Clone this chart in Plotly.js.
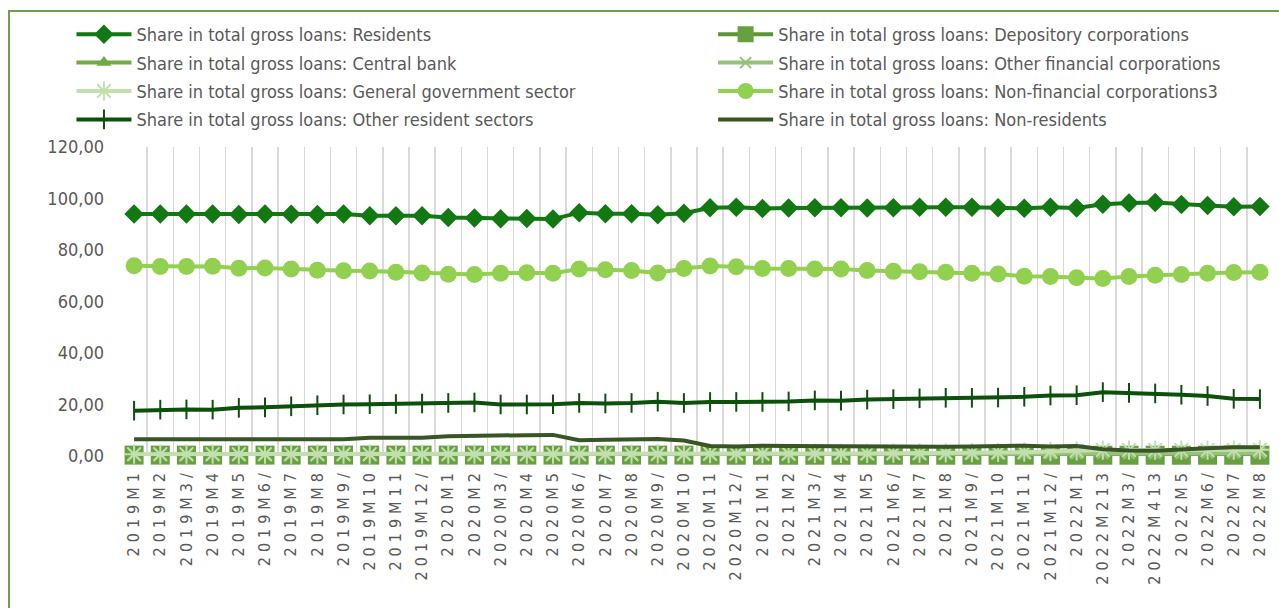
<!DOCTYPE html>
<html>
<head>
<meta charset="utf-8">
<script src="https://cdn.plot.ly/plotly-3.0.1.min.js"></script>
<style>
  html, body { margin: 0; padding: 0; background: #ffffff; }
  #chart { position: absolute; left: 0; top: 0; width: 1279px; height: 608px; }
  #frame { position: absolute; left: 8px; top: 10px; width: 1400px; height: 800px;
           border-left: 2px solid #6E9F4B; border-top: 2px solid #6E9F4B; pointer-events: none; }
  .xtick text { letter-spacing: 5px; }
</style>
</head>
<body>
<div id="chart"></div>
<div id="frame"></div>
<script>
const categories = [
  "2019M1","2019M2","2019M3/","2019M4","2019M5","2019M6/","2019M7","2019M8","2019M9/","2019M10","2019M11","2019M12/",
  "2020M1","2020M2","2020M3/","2020M4","2020M5","2020M6/","2020M7","2020M8","2020M9/","2020M10","2020M11","2020M12/",
  "2021M1","2021M2","2021M3/","2021M4","2021M5","2021M6/","2021M7","2021M8","2021M9/","2021M10","2021M11","2021M12/",
  "2022M1","2022M213","2022M3/","2022M413","2022M5","2022M6/","2022M7","2022M8"
];

const residents = [
  94.0, 94.0, 94.0, 94.0, 93.8, 94.0, 93.9, 93.8, 94.0, 93.3, 93.3, 93.3,
  92.6, 92.4, 92.1, 92.2, 92.0, 94.5, 94.1, 94.1, 93.7, 94.3, 96.4, 96.6,
  96.1, 96.3, 96.4, 96.4, 96.3, 96.4, 96.6, 96.6, 96.6, 96.4, 96.2, 96.6,
  96.3, 97.8, 98.3, 98.4, 97.7, 97.3, 96.8, 96.9
];
const depository = [
  0.35, 0.35, 0.35, 0.35, 0.35, 0.35, 0.35, 0.35, 0.35, 0.35, 0.35, 0.35,
  0.35, 0.35, 0.35, 0.35, 0.35, 0.35, 0.35, 0.35, 0.35, 0.35, 0.30, 0.30,
  0.30, 0.30, 0.30, 0.30, 0.30, 0.30, 0.30, 0.30, 0.30, 0.30, 0.30, 0.30,
  0.30, 0.30, 0.30, 0.30, 0.30, 0.30, 0.30, 0.30
];
const centralBank = [
  0.0, 0.0, 0.0, 0.0, 0.0, 0.0, 0.0, 0.0, 0.0, 0.0, 0.0, 0.0,
  0.0, 0.0, 0.0, 0.0, 0.0, 0.0, 0.0, 0.0, 0.0, 0.0, 0.0, 0.0,
  0.0, 0.0, 0.0, 0.0, 0.0, 0.0, 0.0, 0.0, 0.0, 0.0, 0.0, 0.0,
  0.0, 0.0, 0.0, 0.0, 0.0, 0.0, 0.0, 0.0
];
const otherFinancial = [
  0.6, 0.6, 0.6, 0.6, 0.6, 0.6, 0.6, 0.6, 0.6, 0.6, 0.6, 0.6,
  0.6, 0.6, 0.6, 0.6, 0.6, 0.6, 0.6, 0.6, 0.6, 0.6, 0.7, 0.7,
  0.7, 0.7, 0.7, 0.7, 0.7, 0.8, 0.8, 0.8, 0.9, 0.9, 0.9, 1.0,
  1.0, 1.1, 1.1, 1.1, 1.1, 1.2, 1.2, 1.2
];
const generalGov = [
  0.7, 0.7, 0.7, 0.7, 0.7, 0.7, 0.7, 0.7, 0.7, 0.7, 0.7, 0.7,
  0.7, 0.7, 0.7, 0.7, 0.7, 0.7, 0.7, 0.7, 0.8, 0.8, 0.9, 0.9,
  0.9, 0.9, 1.0, 1.0, 1.0, 1.1, 1.1, 1.2, 1.3, 1.4, 1.5, 1.8,
  2.0, 2.3, 2.3, 2.3, 2.3, 2.3, 2.3, 2.4
];
const nonFinancialCorp = [
  73.9, 73.6, 73.6, 73.7, 72.9, 73.0, 72.6, 72.1, 71.9, 71.8, 71.4, 71.1,
  70.6, 70.5, 71.0, 71.2, 71.0, 72.6, 72.3, 72.0, 71.1, 72.8, 73.8, 73.5,
  72.8, 72.8, 72.6, 72.6, 72.0, 71.7, 71.6, 71.4, 71.0, 70.7, 69.8, 69.7,
  69.2, 68.9, 69.7, 70.2, 70.5, 71.0, 71.3, 71.4
];
const otherResident = [
  17.6, 18.0, 18.1, 18.0, 18.7, 18.9, 19.3, 19.7, 20.0, 20.1, 20.2, 20.4,
  20.6, 20.8, 20.0, 20.0, 20.1, 20.6, 20.4, 20.6, 21.1, 20.6, 21.0, 21.0,
  21.0, 21.2, 21.6, 21.5, 21.9, 22.1, 22.4, 22.6, 22.6, 22.7, 23.0, 23.5,
  23.6, 24.8, 24.5, 24.3, 23.8, 23.3, 22.2, 22.1
];
const nonResidents = [
  6.5, 6.5, 6.5, 6.5, 6.5, 6.5, 6.5, 6.5, 6.5, 7.1, 7.1, 7.1,
  7.7, 7.9, 8.2, 8.1, 8.2, 6.1, 6.3, 6.3, 6.6, 6.0, 3.9, 3.7,
  4.0, 3.9, 3.8, 3.8, 3.9, 3.8, 3.6, 3.6, 3.7, 3.8, 4.0, 3.7,
  3.9, 2.6, 2.1, 2.0, 2.6, 3.0, 3.4, 3.4
];

const seriesNames = [
  "Share in total gross loans: Residents",
  "Share in total gross loans: Depository corporations",
  "Share in total gross loans: Central bank",
  "Share in total gross loans: Other financial corporations",
  "Share in total gross loans: General government sector",
  "Share in total gross loans: Non-financial corporations3",
  "Share in total gross loans: Other resident sectors",
  "Share in total gross loans: Non-residents"
];

const FONT = "'DejaVu Sans Condensed', 'DejaVu Sans', sans-serif";
const TXT = "#595959";

function tr(name, y, color, marker, legend, group) {
  const t = {
    type: "scatter", mode: marker ? "lines+markers" : "lines",
    x: categories, y: y, name: name, cliponaxis: false,
    line: { color: color, width: 4 },
    legend: legend, legendgroup: group
  };
  if (marker) t.marker = marker;
  return t;
}

const data = [
  tr(seriesNames[0], residents, "#127812",
     { symbol: "diamond", size: 15, color: "#127812" }, "legend", "g1"),
  tr(seriesNames[1], depository, "#5E9438",
     { symbol: "square", size: 19, color: "#67A13F" }, "legend2", "g2"),
  tr(seriesNames[2], centralBank, "#70AA49",
     { symbol: "triangle-up", size: 13, color: "#70AA49" }, "legend", "g3"),
  tr(seriesNames[3], otherFinancial, "#94C27A",
     { symbol: "x-thin-open", size: 11, color: "#94C27A", line: { color: "#94C27A", width: 2 } }, "legend2", "g4"),
  tr(seriesNames[4], generalGov, "#C3DFB0",
     { symbol: "asterisk-open", size: 16, color: "#C3DFB0", line: { color: "#C3DFB0", width: 2 } }, "legend", "g5"),
  tr(seriesNames[5], nonFinancialCorp, "#92D050",
     { symbol: "circle", size: 17, color: "#92D050" }, "legend2", "g6"),
  tr(seriesNames[6], otherResident, "#0B500B",
     { symbol: "line-ns-open", size: 14, color: "#0B500B", line: { color: "#0B500B", width: 2 } }, "legend", "g7"),
  tr(seriesNames[7], nonResidents, "#375623", null, "legend2", "g8")
];

const legendCommon = {
  orientation: "v", yanchor: "top", xanchor: "left",
  font: { family: FONT, size: 18, color: TXT },
  bgcolor: "rgba(0,0,0,0)", borderwidth: 0,
  tracegroupgap: 2, itemwidth: 55, traceorder: "grouped"
};

const layout = {
  width: 1279, height: 608,
  margin: { l: 121, r: 6, t: 147, b: 152 },
  paper_bgcolor: "#ffffff", plot_bgcolor: "#ffffff",
  separators: ", ",
  showlegend: true,
  font: { family: FONT, color: TXT },
  xaxis: {
    type: "category", range: [-0.5, 43.5],
    tickson: "boundaries", tickmode: "linear", dtick: 1, tick0: 0,
    showgrid: true, gridcolor: "#D9D9D9", gridwidth: 1.5,
    showline: false, zeroline: false, ticks: "",
    tickangle: -90, ticklabelstandoff: 8,
    tickfont: { family: FONT, size: 16, color: TXT }
  },
  yaxis: {
    range: [0, 120], dtick: 20, tick0: 0, tickformat: ".2f",
    showgrid: false, zeroline: false, showline: false, ticks: "",
    ticklabelstandoff: 16,
    tickfont: { family: FONT, size: 18, color: TXT }
  },
  legend: Object.assign({ x: -0.043, y: 1.424 }, legendCommon),
  legend2: Object.assign({ x: 0.514, y: 1.424 }, legendCommon)
};

Plotly.newPlot("chart", data, layout, { staticPlot: true, displayModeBar: false });
</script>
</body>
</html>
